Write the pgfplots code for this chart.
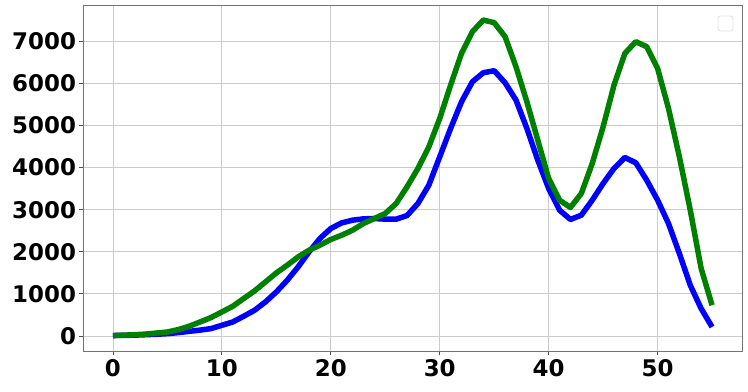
\documentclass[border=0pt]{standalone}
\usepackage{fontspec}
\setmainfont{DejaVu Sans}
\usepackage{pgfplots}
\pgfplotsset{compat=1.18}
\definecolor{mplgreen}{RGB}{0,128,0}
\definecolor{mplblue}{RGB}{0,0,255}
\begin{document}
\begin{tikzpicture}[x=1bp,y=1bp]
\useasboundingbox (-83,-40) rectangle (665,351);
\begin{axis}[
  at={(0,0)}, anchor=south west,
  scale only axis,
  width=659bp, height=346bp,
  xmin=-2.75, xmax=57.75,
  ymin=-357, ymax=7862,
  xtick={0,10,...,50},
  ytick={0,1000,...,7000},
  grid=major,
  grid style={draw=black!20, line width=0.8bp},
  axis line style={draw=black!55, line width=0.8bp},
  tick style={draw=black!70, line width=0.8bp},
  tick align=outside,
  major tick length=3.5bp,
  xtick pos=bottom, ytick pos=left,
  ticklabel style={font=\fontsize{23}{23}\selectfont\bfseries},
  /pgf/number format/assume math mode=true,
  /pgf/number format/1000 sep={},
  xticklabel style={yshift=-1bp},
]
\addplot[mplblue, line width=5.5bp, line join=round] coordinates {
(0,10) (1,15) (2,20) (3,30) (4,40) (5,55) (6,80) (7,110) (8,140) (9,175)
(10,254) (11,333) (12,468) (13,611) (14,809) (15,1046) (16,1324) (17,1641) (18,1997) (19,2316)
(20,2553) (21,2687) (22,2751) (23,2782) (24,2790) (25,2775) (26,2775) (27,2860) (28,3148) (29,3583)
(30,4256) (31,4931) (32,5563) (33,6039) (34,6253) (35,6301) (36,6015) (37,5604) (38,4931) (39,4177)
(40,3504) (41,2989) (42,2767) (43,2870) (44,3226) (45,3623) (46,3980) (47,4241) (48,4113) (49,3702)
(50,3226) (51,2672) (52,1959) (53,1205) (54,651) (55,214)
};
\addplot[mplgreen, line width=5.5bp, line join=round] coordinates {
(0,10) (1,20) (2,30) (3,45) (4,70) (5,95) (6,152) (7,231) (8,333) (9,437)
(10,571) (11,706) (12,889) (13,1070) (14,1284) (15,1498) (16,1681) (17,1878) (18,2037) (19,2156)
(20,2292) (21,2394) (22,2513) (23,2672) (24,2791) (25,2910) (26,3147) (27,3543) (28,3980) (29,4494)
(30,5168) (31,5960) (32,6714) (33,7228) (34,7505) (35,7442) (36,7109) (37,6396) (38,5563) (39,4653)
(40,3742) (41,3226) (42,3052) (43,3386) (44,4098) (45,4970) (46,5961) (47,6714) (48,6990) (49,6871)
(50,6357) (51,5405) (52,4256) (53,2989) (54,1602) (55,730)
};
\draw[black!12, line width=0.8bp, rounded corners=2.5bp]
  ([xshift=-24bp,yshift=-11bp]rel axis cs:1,1) rectangle ([xshift=-9bp,yshift=-26bp]rel axis cs:1,1);
\end{axis}
\end{tikzpicture}
\end{document}
